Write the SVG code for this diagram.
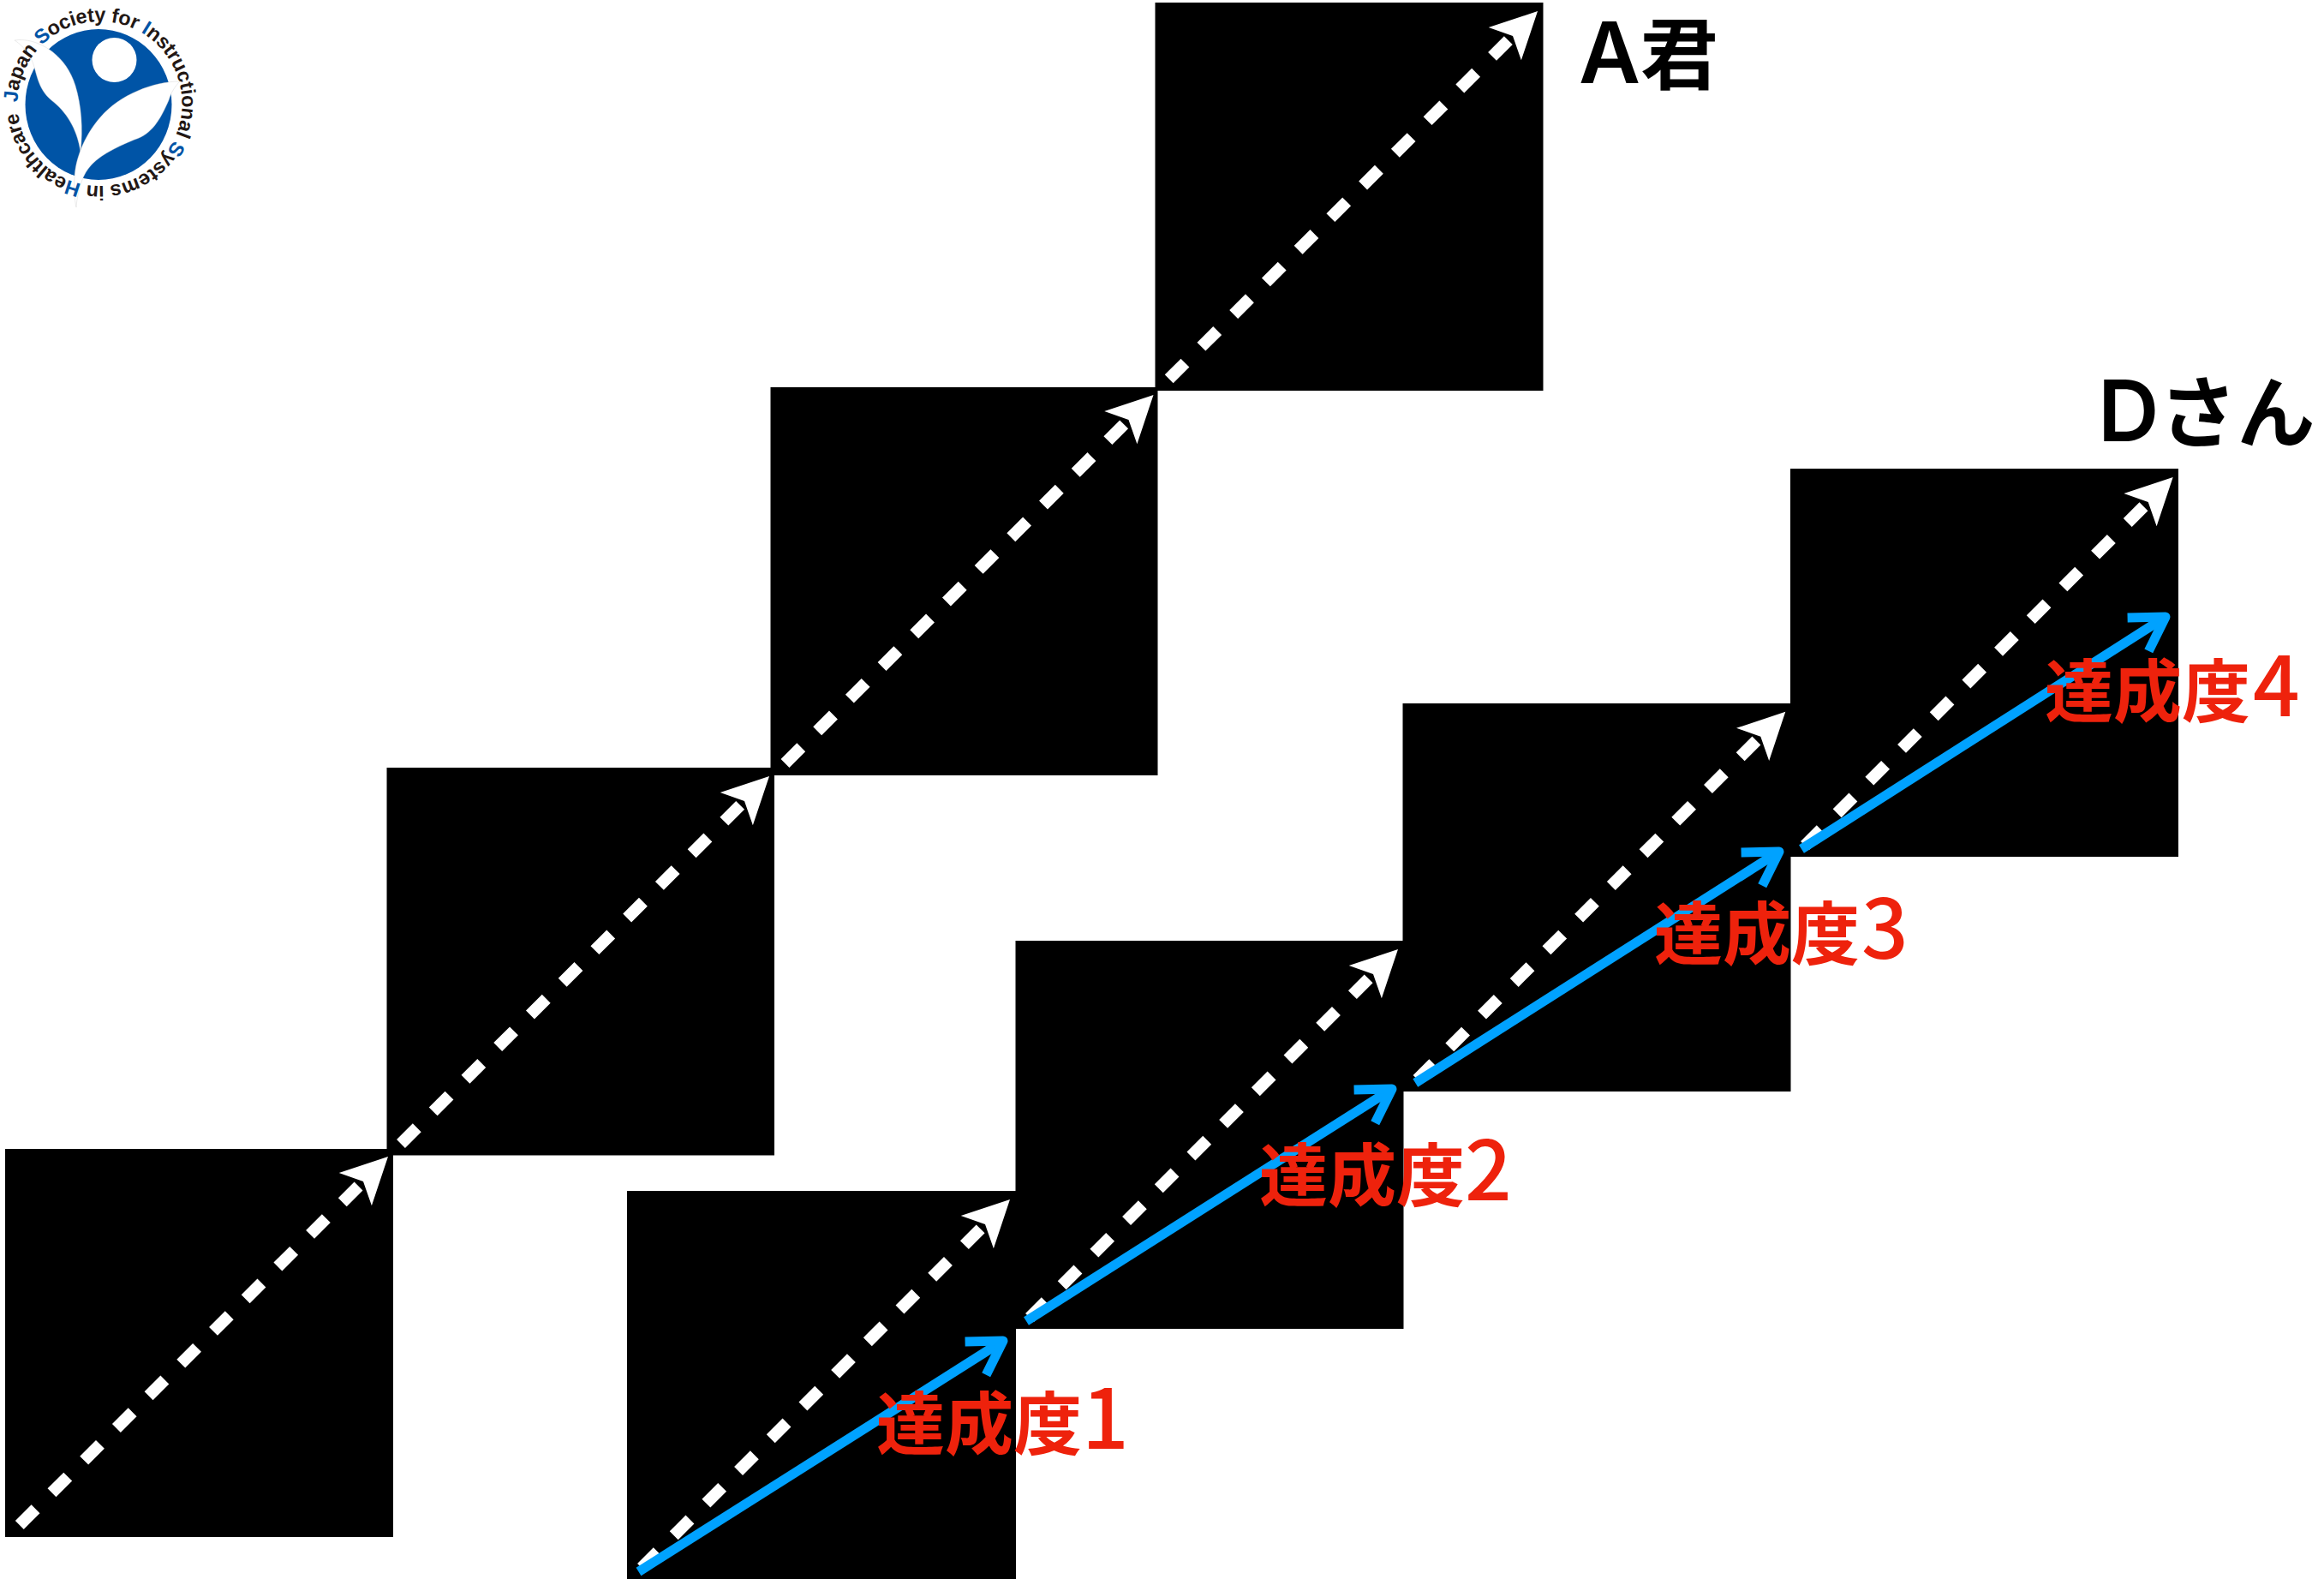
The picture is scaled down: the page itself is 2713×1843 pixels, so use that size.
<svg xmlns="http://www.w3.org/2000/svg" width="2713" height="1843" viewBox="0 0 2713 1843">
<style>
.box{fill:#000}
.dash{fill:none;stroke:#fff;stroke-width:14;stroke-dasharray:26.5 26.8;marker-end:url(#plane)}
.blue{fill:none;stroke:#00A2FF;stroke-width:11;marker-end:url(#chev)}
.lab{font-family:"Noto Sans CJK JP","Noto Sans",sans-serif;font-weight:700;font-size:80px;fill:#EE220C}
.dig{font-size:96px;font-weight:500}
.name{font-family:"Noto Sans CJK JP",sans-serif;font-weight:700;font-size:91px;fill:#000}
.lat{font-family:Inter,"Liberation Sans",sans-serif;font-size:99px;font-weight:600}
.ring{font-family:"Liberation Sans",Arial,sans-serif;font-size:23.5px;font-weight:700;fill:#231815}
.ring tspan{fill:#0054A6}
</style>
<defs>
<marker id="plane" markerUnits="userSpaceOnUse" viewBox="-20 -30 65 60" refX="0" refY="0" markerWidth="65" markerHeight="60" orient="auto"><path d="M41,0L-13,-27L0,0L-13,27Z" fill="#fff"/></marker>
<marker id="chev" markerUnits="userSpaceOnUse" viewBox="-50 -35 60 70" refX="0" refY="0" markerWidth="60" markerHeight="70" orient="auto"><path d="M-38,-23L0,0L-38,23" fill="none" stroke="#00A2FF" stroke-width="11" stroke-linejoin="round"/></marker>
<path id="ringpath" d="M20.5,119.3A96,96 0 1 1 212.5,122.7A96,96 0 1 1 20.5,119.3"/>
</defs>

<g id="logo">
<ellipse cx="115" cy="122" rx="85.5" ry="88" fill="#0054A6"/>
<circle cx="133.5" cy="70" r="26" fill="#fff"/>
<path d="M17,47C43,43 77,63 88,100C95,123 97,150 94,177C90,150 77,130 60,117C43,103 43,83 37,70C32,60 25,52 17,47Z" fill="#fff" stroke="#ccc" stroke-width="0.4"/>
<path d="M210,95C180,95 140,110 117,137C97,160 88,187 87,207C86,220 87,233 89,242C90,227 95,207 103,197C113,183 133,173 157,163C177,157 187,140 197,117C200,107 205,100 210,95Z" fill="#fff" stroke="#ccc" stroke-width="0.4"/>
<text class="ring" textLength="590"><textPath href="#ringpath"><tspan>J</tspan>apan <tspan>S</tspan>ociety for <tspan>I</tspan>nstructional <tspan>S</tspan>ystems in <tspan>H</tspan>ealthcare</textPath></text>
</g>

<g id="a-step-1"><rect class="box" x="6" y="1341" width="453" height="453"/></g>
<g id="a-step-2"><rect class="box" x="451.5" y="896" width="452.5" height="452.5"/></g>
<g id="a-step-3"><rect class="box" x="899.5" y="452" width="452" height="453"/></g>
<g id="a-step-4"><rect class="box" x="1348.5" y="3" width="453" height="453"/></g>
<g id="d-step-1"><rect class="box" x="732" y="1390" width="454" height="453"/></g>
<g id="d-step-2"><rect class="box" x="1185.5" y="1098" width="453" height="453"/></g>
<g id="d-step-3"><rect class="box" x="1637.5" y="821" width="453" height="453"/></g>
<g id="d-step-4"><rect class="box" x="2090" y="547" width="453" height="453"/></g>

<g id="connectors">
<line class="dash" x1="22.8" y1="1780" x2="424" y2="1379"/>
<line class="dash" x1="468" y1="1335" x2="869" y2="935"/>
<line class="dash" x1="916.5" y1="891" x2="1317.5" y2="490"/>
<line class="dash" x1="1364.7" y1="442.3" x2="1766" y2="42"/>
<line class="dash" x1="749" y1="1830" x2="1150" y2="1429"/>
<line class="dash" x1="1202" y1="1538" x2="1603" y2="1137"/>
<line class="dash" x1="1654.6" y1="1260" x2="2055.3" y2="859.7"/>
<line class="dash" x1="2107" y1="987" x2="2507.7" y2="586"/>
<line class="blue" x1="745.5" y1="1834.5" x2="1171" y2="1565"/>
<line class="blue" x1="1198" y1="1542" x2="1625" y2="1271"/>
<line class="blue" x1="1652.3" y1="1264" x2="2077" y2="994"/>
<line class="blue" x1="2103" y1="991" x2="2528" y2="720"/>
</g>

<g id="label-1"><text class="lab" x="1023" y="1691">達成度<tspan class="dig">1</tspan></text></g>
<g id="label-2"><text class="lab" x="1470" y="1401">達成度<tspan class="dig">2</tspan></text></g>
<g id="label-3"><text class="lab" x="1931" y="1119">達成度<tspan class="dig" dx="2">3</tspan></text></g>
<g id="label-4"><text class="lab" x="2387" y="836">達成度<tspan class="dig" dx="3">4</tspan></text></g>
<g id="name-a"><text class="name" x="1843" y="97"><tspan class="lat">A</tspan>君</text></g>
<g id="name-d"><text class="name" x="2449" y="515"><tspan class="lat">D</tspan>さん</text></g>
</svg>
